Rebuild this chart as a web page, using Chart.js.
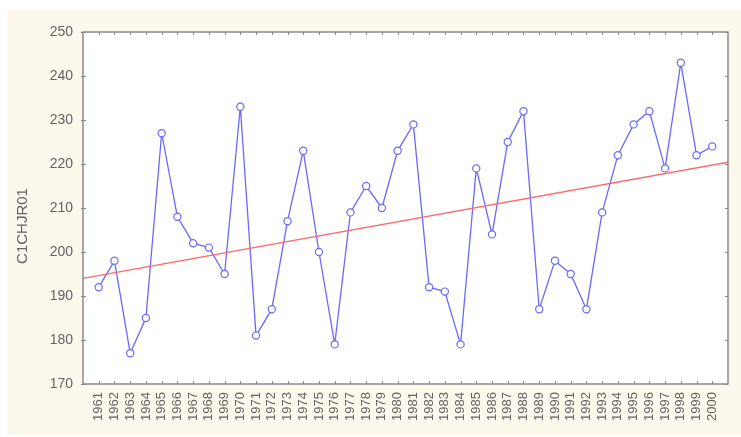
<!DOCTYPE html>
<html lang="en">
  <head>
    <meta charset="utf-8" />
    <title>C1CHJR01</title>
    <style>
      html, body { margin: 0; padding: 0; background: #ffffff; }
      .chartBox { width: 741px; height: 437px; }
    </style>
  </head>
  <body>
    <div class="chartBox">
      <canvas id="myChart" width="741" height="437"></canvas>
    </div>
    <script src="https://cdn.jsdelivr.net/npm/chart.js"></script>
    <script>
      const years = [
        1961, 1962, 1963, 1964, 1965, 1966, 1967, 1968, 1969, 1970,
        1971, 1972, 1973, 1974, 1975, 1976, 1977, 1978, 1979, 1980,
        1981, 1982, 1983, 1984, 1985, 1986, 1987, 1988, 1989, 1990,
        1991, 1992, 1993, 1994, 1995, 1996, 1997, 1998, 1999, 2000,
      ];
      const values = [
        192, 198, 177, 185, 227, 208, 202, 201, 195, 233,
        181, 187, 207, 223, 200, 179, 209, 215, 210, 223,
        229, 192, 191, 179, 219, 204, 225, 232, 187, 198,
        195, 187, 209, 222, 229, 232, 219, 243, 222, 224,
      ];
      // fitted line, read at the two edges of the plot
      const trendYears = [1960, 2001];
      const trendValues = [194.0, 220.4];
      const yTicks = [170, 180, 190, 200, 210, 220, 230, 240, 250];
      const axisTitle = "C1CHJR01";

      const textColor = "#636363";
      const frameColor = "#8a8a8a";

      const seriesPoints = years.map((yr, i) => ({ x: yr, y: values[i] }));
      const trendPoints = trendYears.map((yr, i) => ({ x: yr, y: trendValues[i] }));

      // cream page, white plot, frame, inward ticks, axis title
      const frame = {
        id: "frame",
        beforeDraw(chart) {
          const { ctx, chartArea: a } = chart;
          ctx.save();
          ctx.fillStyle = "#fdf8ec";
          ctx.fillRect(7, 10, chart.width - 7, chart.height - 12);
          ctx.fillStyle = "#ffffff";
          ctx.fillRect(a.left, a.top, a.right - a.left, a.bottom - a.top);
          ctx.restore();
        },
        afterDraw(chart) {
          const { ctx, chartArea: a, scales } = chart;
          ctx.save();
          ctx.strokeStyle = frameColor;
          ctx.lineWidth = 1.5;
          ctx.strokeRect(a.left, a.top, a.right - a.left, a.bottom - a.top);
          ctx.lineWidth = 1;
          ctx.beginPath();
          years.forEach((yr) => {
            const px = Math.round(scales.x.getPixelForValue(yr)) + 0.5;
            ctx.moveTo(px, a.bottom);
            ctx.lineTo(px, a.bottom - 3);
            ctx.moveTo(px, a.top);
            ctx.lineTo(px, a.top + 3);
          });
          yTicks.forEach((v) => {
            const py = Math.round(scales.y.getPixelForValue(v)) + 0.5;
            ctx.moveTo(a.left - 2, py);
            ctx.lineTo(a.left + 3, py);
            ctx.moveTo(a.right, py);
            ctx.lineTo(a.right - 3, py);
          });
          ctx.stroke();

          ctx.translate(23, 226);
          ctx.rotate(-Math.PI / 2);
          ctx.fillStyle = textColor;
          ctx.font = "15px 'Liberation Sans', Arial, sans-serif";
          ctx.textAlign = "center";
          ctx.textBaseline = "middle";
          ctx.fillText(axisTitle, 0, 0);
          ctx.restore();
        },
      };

      const config = {
        type: "line",
        data: {
          datasets: [
            {
              label: "trend",
              data: trendPoints,
              borderColor: "rgb(255, 105, 105)",
              borderWidth: 1.4,
              pointRadius: 0,
              order: 0,
            },
            {
              label: axisTitle,
              data: seriesPoints,
              borderColor: "rgb(105, 105, 255)",
              borderWidth: 1.3,
              pointRadius: 3.6,
              pointBorderWidth: 1.2,
              pointBackgroundColor: "#ffffff",
              pointBorderColor: "rgb(105, 105, 255)",
              tension: 0,
              order: 1,
            },
          ],
        },
        plugins: [frame],
        options: {
          responsive: false,
          animation: false,
          layout: { padding: { top: 32, right: 13, left: 0, bottom: 0 } },
          plugins: {
            legend: { display: false },
            tooltip: { enabled: false },
          },
          scales: {
            x: {
              type: "linear",
              min: 1960,
              max: 2001,
              afterFit: (s) => { s.height = 53; },
              afterBuildTicks: (s) => {
                s.ticks = years.map((yr) => ({ value: yr }));
              },
              grid: { display: false, drawTicks: false },
              border: { display: false },
              ticks: {
                autoSkip: false,
                minRotation: 90,
                maxRotation: 90,
                padding: 8,
                color: textColor,
                font: { family: "'Liberation Sans', Arial, sans-serif", size: 13 },
                callback: (v) => String(v),
              },
            },
            y: {
              min: 170,
              max: 250,
              afterFit: (s) => { s.width = 83; },
              afterBuildTicks: (s) => {
                s.ticks = yTicks.map((v) => ({ value: v }));
              },
              grid: { display: false, drawTicks: false },
              border: { display: false },
              ticks: {
                padding: 10,
                color: textColor,
                font: { family: "'Liberation Sans', Arial, sans-serif", size: 14 },
                callback: (v) => String(v),
              },
            },
          },
        },
      };

      const myChart = new Chart(document.getElementById("myChart"), config);
    </script>
  </body>
</html>
